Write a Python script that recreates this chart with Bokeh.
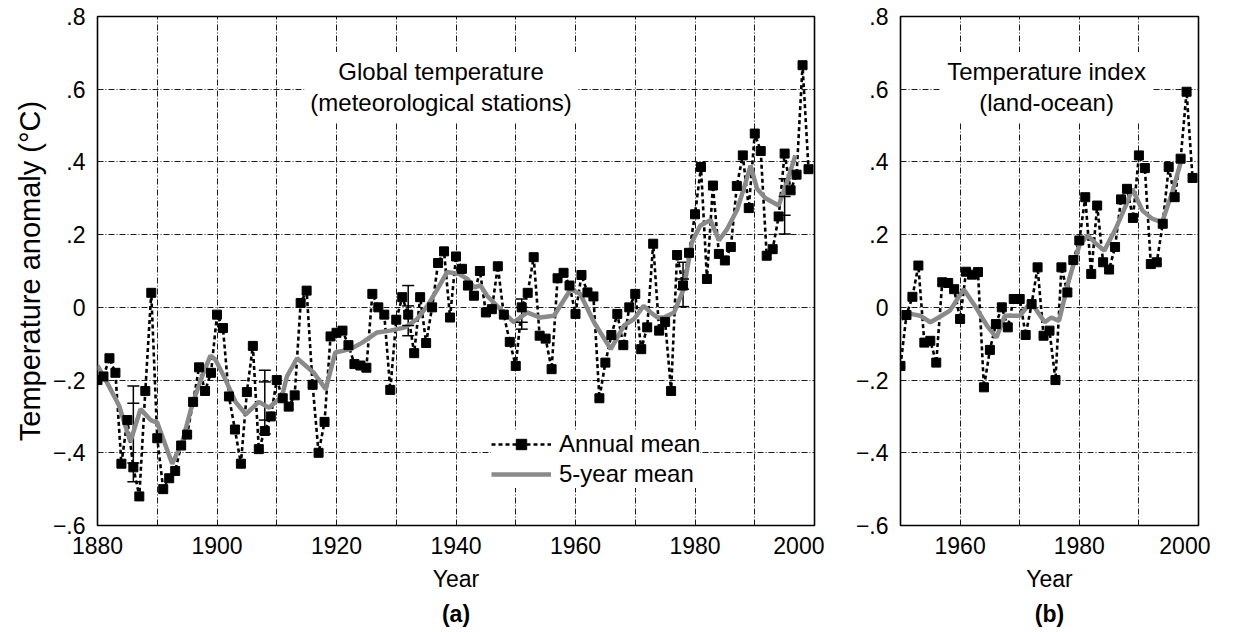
from bokeh.plotting import figure
from bokeh.models import (Range1d, FixedTicker, CustomJSTickFormatter, Label, Legend,
                          LegendItem, Whisker, TeeHead, ColumnDataSource, Title)
from bokeh.layouts import row
from bokeh.embed import file_html
from bokeh.resources import INLINE

FONT = "Liberation Sans"

# ---------------- data: panel (a) meteorological stations ----------------
years_a = list(range(1880, 2000))
annual_a = [
    -0.20, -0.19, -0.14, -0.18, -0.43, -0.31, -0.44, -0.52, -0.23, 0.04,     # 1880s
    -0.36, -0.50, -0.47, -0.45, -0.38, -0.35, -0.26, -0.165, -0.23, -0.18,   # 1890s
    -0.02, -0.057, -0.245, -0.336, -0.43, -0.233, -0.106, -0.39, -0.34, -0.30,  # 1900s
    -0.20, -0.25, -0.273, -0.242, 0.012, 0.046, -0.213, -0.40, -0.315, -0.08,   # 1910s
    -0.07, -0.064, -0.104, -0.156, -0.16, -0.166, 0.037, 0.0, -0.02, -0.227,   # 1920s
    -0.034, 0.028, -0.02, -0.126, 0.028, -0.098, 0.0, 0.122, 0.154, -0.028,   # 1930s
    0.14, 0.106, 0.06, 0.032, 0.10, -0.014, -0.005, 0.113, -0.02, -0.095,     # 1940s
    -0.161, 0.0, 0.04, 0.138, -0.078, -0.086, -0.17, 0.08, 0.095, 0.06,      # 1950s
    -0.018, 0.089, 0.041, 0.03, -0.25, -0.152, -0.076, -0.018, -0.104, 0.0,  # 1960s
    0.037, -0.115, -0.055, 0.175, -0.064, -0.04, -0.23, 0.144, 0.06, 0.15,   # 1970s
    0.256, 0.386, 0.078, 0.335, 0.147, 0.129, 0.166, 0.334, 0.418, 0.273,   # 1980s
    0.478, 0.43, 0.142, 0.16, 0.25, 0.423, 0.322, 0.365, 0.666, 0.38,       # 1990s
]
smooth_a_years = [1880.0, 1881.6, 1883.6, 1885.5, 1887.2, 1888.9, 1890.0, 1892.5, 1894.2,
                  1895.8, 1897.5, 1898.9, 1899.7, 1901.4, 1903.1, 1904.8, 1907.0, 1908.7,
                  1910.9, 1911.7, 1913.4, 1916.2, 1918.2, 1919.8, 1922.3, 1924.3, 1926.8,
                  1929.0, 1931.5, 1933.5, 1935.2, 1936.9, 1938.5, 1940.5, 1941.9, 1943.0,
                  1944.1, 1945.2, 1947.4, 1949.7, 1951.9, 1954.1, 1956.4, 1959.2, 1960.8,
                  1963.1, 1965.9, 1968.1, 1969.8, 1971.4, 1972.6, 1973.7, 1974.8, 1976.5,
                  1978.1, 1979.5, 1980.9, 1982.6, 1984.0, 1985.4, 1987.1, 1988.5, 1989.3,
                  1990.4, 1991.8, 1994.0, 1995.4, 1996.8]
smooth_a_vals = [-0.16, -0.207, -0.27, -0.37, -0.28, -0.31, -0.317, -0.43, -0.37,
                 -0.27, -0.19, -0.133, -0.143, -0.198, -0.26, -0.294, -0.26, -0.276,
                 -0.244, -0.19, -0.14, -0.18, -0.225, -0.124, -0.115, -0.097, -0.069,
                 -0.064, -0.055, -0.032, 0.004, 0.05, 0.097, 0.092, 0.078, 0.055,
                 0.06, 0.032, -0.005, -0.041, -0.014, -0.028, -0.023, 0.05, 0.037,
                 -0.041, -0.115, -0.05, -0.032, 0.004, -0.014, -0.028, -0.028, -0.014,
                 0.05, 0.18, 0.225, 0.24, 0.184, 0.216, 0.27, 0.345, 0.39,
                 0.326, 0.30, 0.28, 0.345, 0.418]
err_years = [1886, 1908, 1932, 1951, 1978, 1995]
err_upper = [-0.216, -0.173, 0.06, 0.023, 0.124, 0.354]
err_lower = [-0.48, -0.348, -0.078, -0.06, 0.002, 0.202]
err_inner_hi = [-0.264, -0.205, 0.004, 0.0, 0.078, 0.305]
err_inner_lo = [-0.428, -0.31, -0.05, -0.041, 0.05, 0.253]

# ---------------- data: panel (b) land-ocean index ----------------
years_b = list(range(1950, 2000))
annual_b = [
    -0.161, -0.021, 0.029, 0.115, -0.097, -0.092, -0.152, 0.069, 0.067, 0.05,   # 1950s
    -0.032, 0.098, 0.09, 0.097, -0.22, -0.117, -0.046, 0.0, -0.055, 0.023,     # 1960s
    0.023, -0.076, 0.009, 0.11, -0.078, -0.064, -0.20, 0.11, 0.041, 0.13,      # 1970s
    0.184, 0.303, 0.092, 0.28, 0.124, 0.104, 0.166, 0.297, 0.326, 0.246,      # 1980s
    0.418, 0.383, 0.119, 0.124, 0.23, 0.386, 0.303, 0.409, 0.593, 0.356,      # 1990s
]
smooth_b_years = [1950.1, 1951.7, 1953.3, 1955.0, 1956.4, 1958.3, 1960.6, 1962.5, 1964.5,
                  1966.1, 1967.5, 1970.0, 1971.9, 1974.2, 1975.3, 1976.6, 1978.3, 1980.0,
                  1981.4, 1982.8, 1984.2, 1986.1, 1987.8, 1988.9, 1990.6, 1992.2, 1993.9,
                  1995.6, 1997.2]
smooth_b_vals = [-0.032, -0.018, -0.023, -0.041, -0.028, -0.009, 0.05, 0.004, -0.05,
                 -0.083, -0.023, -0.023, 0.014, -0.041, -0.028, -0.037, 0.078, 0.17,
                 0.198, 0.175, 0.156, 0.216, 0.28, 0.326, 0.266, 0.244, 0.234,
                 0.317, 0.409]

y_ticks = [-0.6, -0.4, -0.2, 0.0, 0.2, 0.4, 0.6, 0.8]
y_grid = [-0.4, -0.2, 0.0, 0.2, 0.4, 0.6]
x_ticks_a = [1880, 1900, 1920, 1940, 1960, 1980, 2000]
x_grid_a = [1890, 1900, 1910, 1920, 1930, 1940, 1950, 1960, 1970, 1980, 1990]
x_ticks_b = [1960, 1980, 2000]
x_grid_b = [1960, 1970, 1980, 1990]

YFMT_CODE = """
if (Math.abs(tick) < 1e-9) { return "0"; }
const s = Math.abs(tick).toFixed(1).replace(/^0/, "");
return (tick < 0 ? "\u2212" : "") + s;
"""


def style(p, xticks, xgrid, tag):
    p.outline_line_color = "black"
    p.outline_line_width = 1.6
    p.background_fill_color = "white"
    p.border_fill_color = "white"
    p.xaxis.ticker = FixedTicker(ticks=xticks)
    p.yaxis.ticker = FixedTicker(ticks=y_ticks)
    p.xgrid.ticker = FixedTicker(ticks=xgrid)
    p.ygrid.ticker = FixedTicker(ticks=y_grid)
    for g in (p.xgrid, p.ygrid):
        g.grid_line_color = "#1a1a1a"
        g.grid_line_dash = "6 2 1 2"
        g.grid_line_width = 1
        g.grid_line_alpha = 1.0
    for ax in (p.xaxis, p.yaxis):
        ax.axis_line_color = None
        ax.major_tick_line_color = None
        ax.minor_tick_line_color = None
        ax.major_tick_out = 0
        ax.major_tick_in = 0
        ax.minor_tick_out = 0
        ax.minor_tick_in = 0
        ax.major_label_text_font = FONT
        ax.major_label_text_font_size = "23px"
        ax.major_label_text_color = "black"
        ax.axis_label_text_font = FONT
        ax.axis_label_text_font_size = "23px"
        ax.axis_label_text_font_style = "normal"
        ax.axis_label_text_color = "black"
    p.yaxis.formatter = CustomJSTickFormatter(code=YFMT_CODE)
    p.xaxis.major_label_standoff = 11
    p.yaxis.major_label_standoff = 12
    p.xaxis.axis_label = "Year"
    p.xaxis.axis_label_standoff = 9
    p.add_layout(Title(text=tag, align="center", text_font=FONT, text_font_size="23px",
                       text_font_style="bold", text_color="black", standoff=8), "below")


# ---------------- panel (a) ----------------
p1 = figure(width=824, height=632, x_range=Range1d(1880, 2000), y_range=Range1d(-0.6, 0.8),
            output_backend="svg", toolbar_location=None,
            min_border_left=97, min_border_right=10, min_border_top=16, min_border_bottom=107)
style(p1, x_ticks_a, x_grid_a, "(a)")
p1.yaxis.axis_label = "Temperature anomaly (\u00b0C)"
p1.yaxis.axis_label_text_font_size = "29px"
p1.yaxis.axis_label_standoff = 4

ln_a = p1.line(years_a, annual_a, line_color="black", line_width=2.6, line_dash="4 3")
gr_a = p1.line(smooth_a_years, smooth_a_vals, line_color="#8a8a8a", line_width=4.5)
sc_a = p1.scatter(years_a, annual_a, marker="square", size=9, color="black")

err_src = ColumnDataSource(dict(base=err_years, upper=err_upper, lower=err_lower))
p1.add_layout(Whisker(source=err_src, base="base", upper="upper", lower="lower",
                      dimension="height", line_color="black", line_width=1.5,
                      upper_head=TeeHead(size=12, line_color="black", line_width=1.5),
                      lower_head=TeeHead(size=12, line_color="black", line_width=1.5)))
p1.scatter(err_years + err_years, err_inner_hi + err_inner_lo, marker="dash", size=12,
           line_color="black", line_width=1.5)

p1.add_layout(Label(x=1937.5, y=0.606, text="Global temperature\n(meteorological stations)",
                    text_align="center", text_baseline="middle", text_font=FONT,
                    text_font_size="24px", text_color="black", text_line_height=1.15,
                    background_fill_color="white", background_fill_alpha=1.0, padding=6))

legend = Legend(items=[LegendItem(label="Annual mean", renderers=[ln_a, sc_a]),
                       LegendItem(label="5-year mean", renderers=[gr_a])],
                location=(394, 37), label_text_font=FONT, label_text_font_size="24px",
                label_text_color="black", glyph_width=60, glyph_height=26, label_height=26,
                label_standoff=8, padding=6, spacing=2, margin=0,
                border_line_color=None, background_fill_color="white",
                background_fill_alpha=1.0)
p1.add_layout(legend)

# ---------------- panel (b) ----------------
p2 = figure(width=386, height=632, x_range=Range1d(1950, 2000), y_range=Range1d(-0.6, 0.8),
            output_backend="svg", toolbar_location=None,
            min_border_left=76, min_border_right=12, min_border_top=16, min_border_bottom=107)
style(p2, x_ticks_b, x_grid_b, "(b)")

p2.line(years_b, annual_b, line_color="black", line_width=2.6, line_dash="4 3")
p2.line(smooth_b_years, smooth_b_vals, line_color="#8a8a8a", line_width=4.5)
p2.scatter(years_b, annual_b, marker="square", size=9, color="black")

p2.add_layout(Label(x=1974.5, y=0.606, text="Temperature index\n(land-ocean)",
                    text_align="center", text_baseline="middle", text_font=FONT,
                    text_font_size="24px", text_color="black", text_line_height=1.15,
                    background_fill_color="white", background_fill_alpha=1.0, padding=6))

layout = row(p1, p2, spacing=0)
open("out.html", "w").write(file_html(layout, INLINE))
